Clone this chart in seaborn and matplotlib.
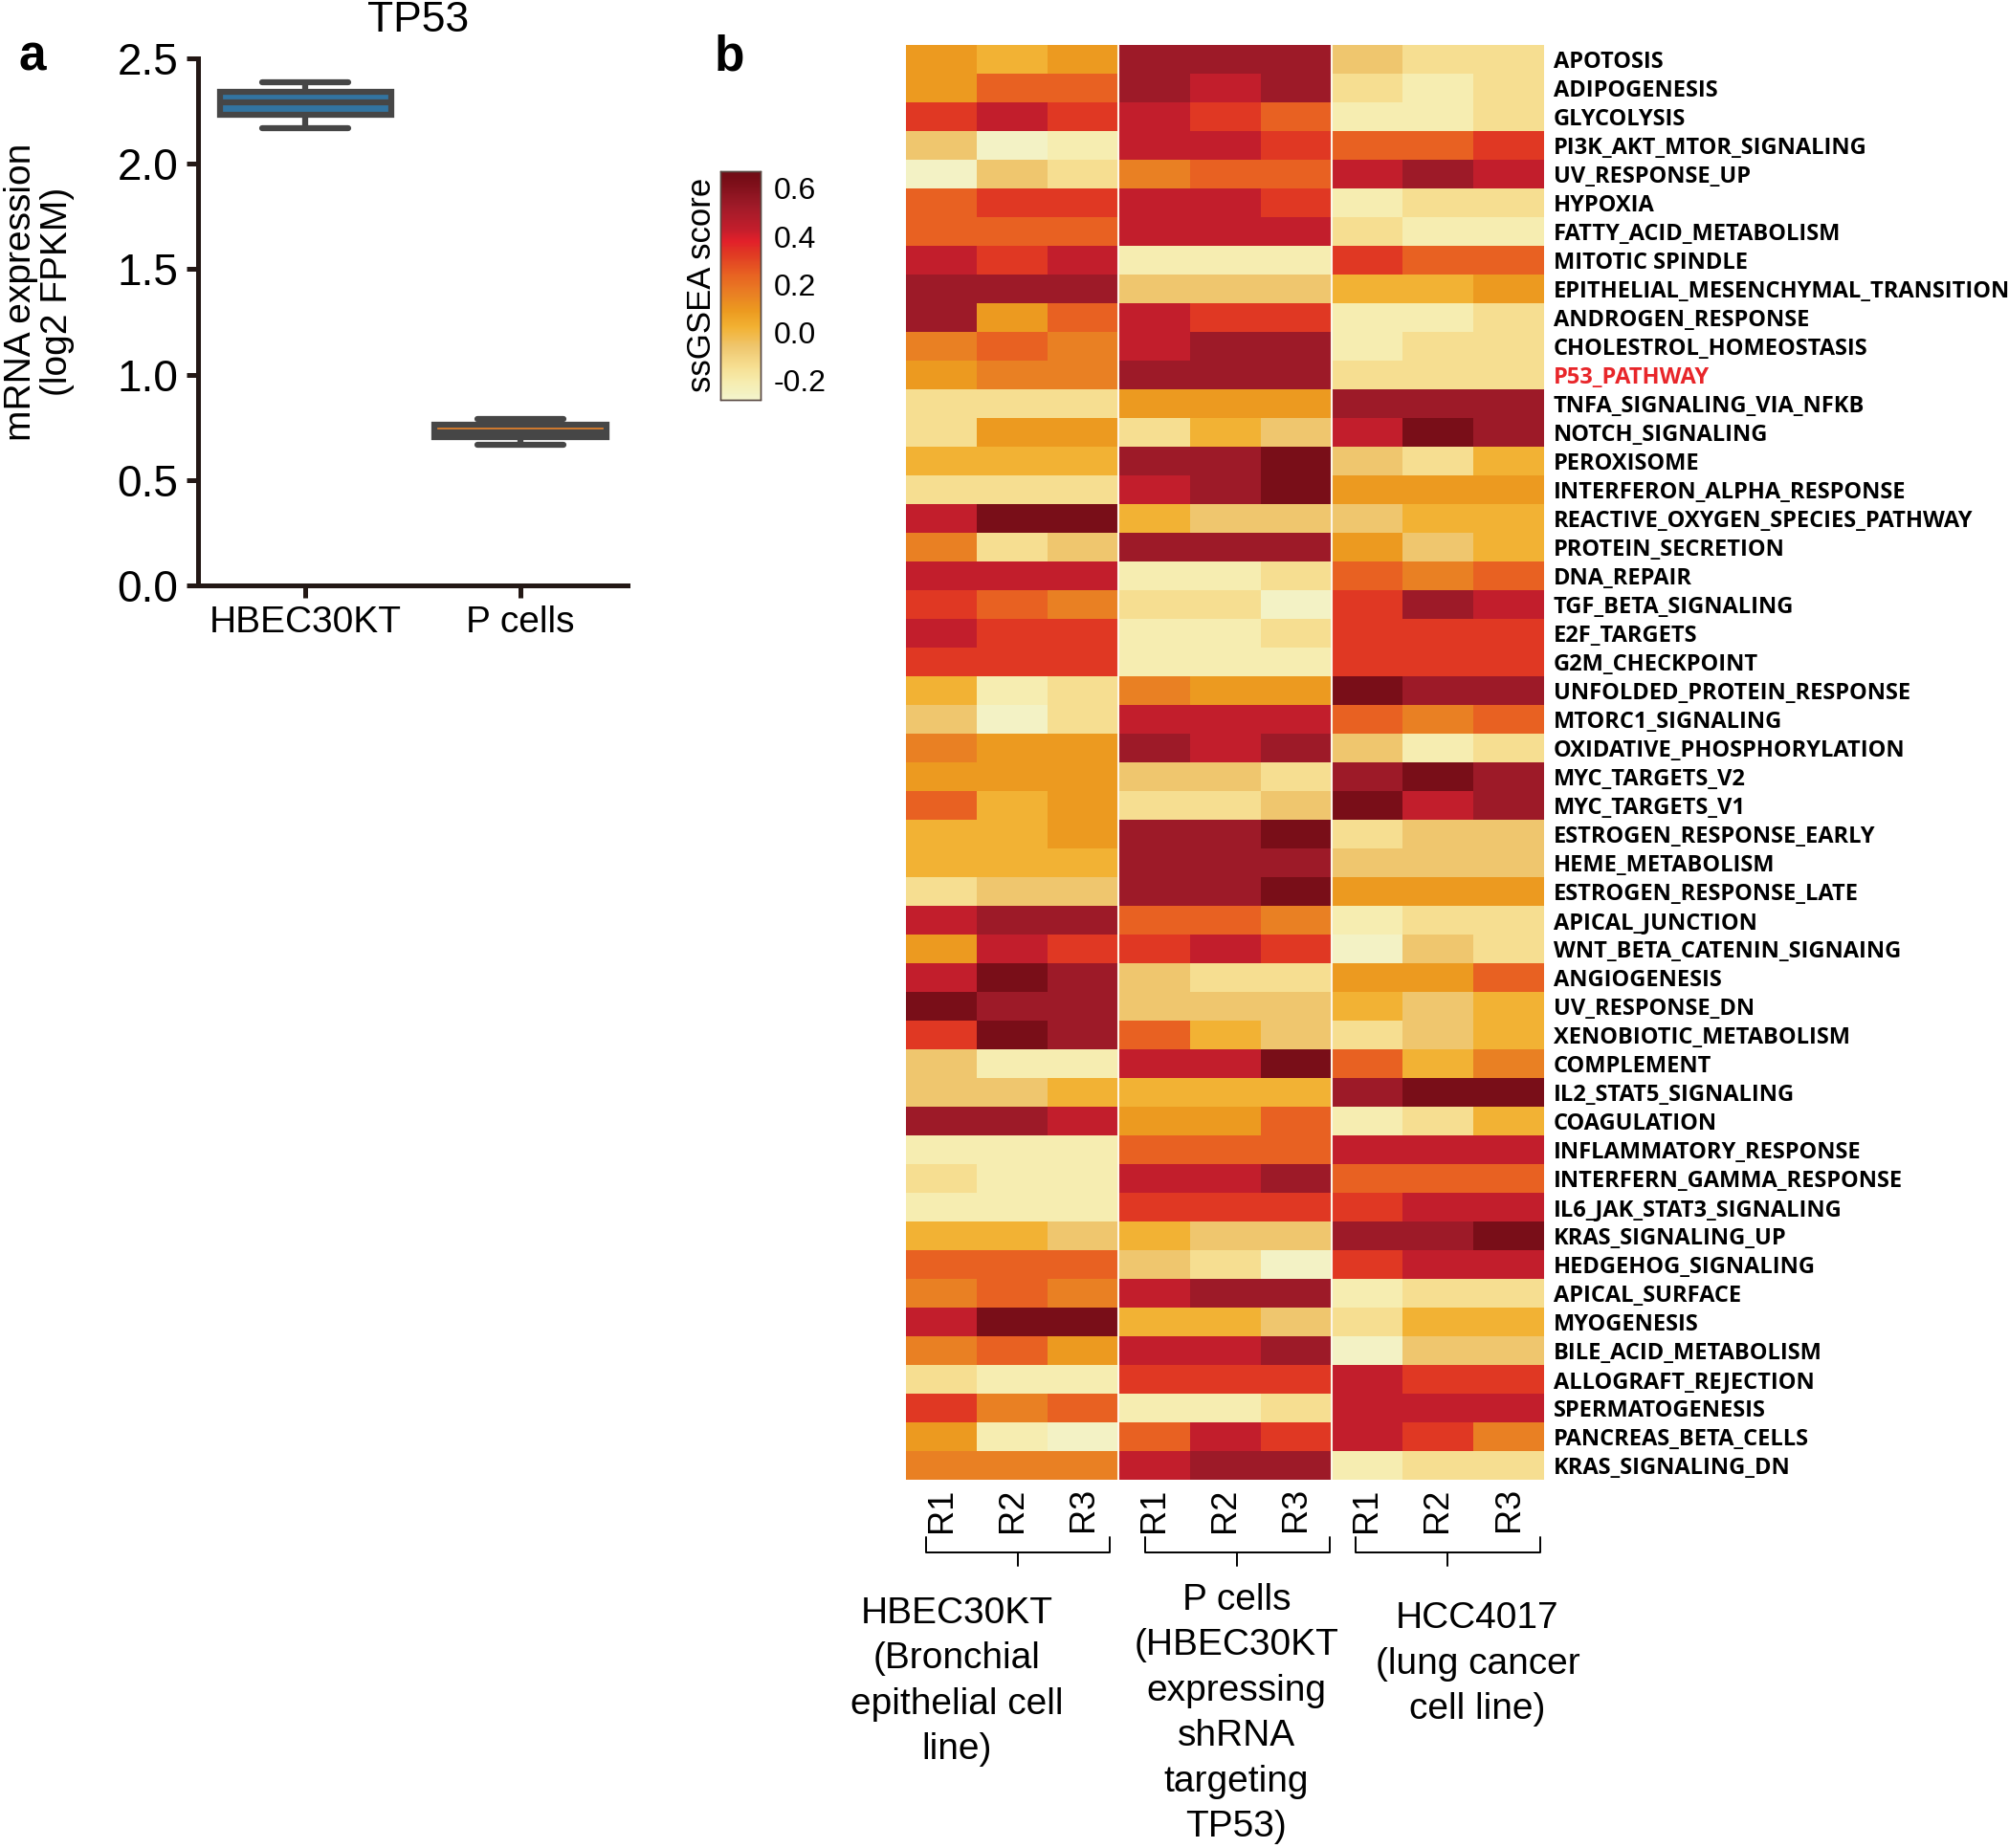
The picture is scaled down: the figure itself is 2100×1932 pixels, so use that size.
import numpy as np
import pandas as pd
import matplotlib
matplotlib.use("Agg")
import matplotlib.pyplot as plt
import matplotlib.transforms as mtransforms
from matplotlib.colors import LinearSegmentedColormap
import seaborn as sns

# --- panel a: TP53 expression (log2 FPKM) ---
box_groups = ["HBEC30KT", "P cells"]
tp53_hbec = [2.169, 2.232, 2.291, 2.341, 2.387]
tp53_pcells = [0.665, 0.703, 0.724, 0.762, 0.789]

# --- panel b: ssGSEA scores (rows = hallmark pathways) ---
pathways = [
    "APOTOSIS", "ADIPOGENESIS", "GLYCOLYSIS", "PI3K_AKT_MTOR_SIGNALING",
    "UV_RESPONSE_UP", "HYPOXIA", "FATTY_ACID_METABOLISM", "MITOTIC SPINDLE",
    "EPITHELIAL_MESENCHYMAL_TRANSITION", "ANDROGEN_RESPONSE",
    "CHOLESTROL_HOMEOSTASIS", "P53_PATHWAY", "TNFA_SIGNALING_VIA_NFKB",
    "NOTCH_SIGNALING", "PEROXISOME", "INTERFERON_ALPHA_RESPONSE",
    "REACTIVE_OXYGEN_SPECIES_PATHWAY", "PROTEIN_SECRETION", "DNA_REPAIR",
    "TGF_BETA_SIGNALING", "E2F_TARGETS", "G2M_CHECKPOINT",
    "UNFOLDED_PROTEIN_RESPONSE", "MTORC1_SIGNALING",
    "OXIDATIVE_PHOSPHORYLATION", "MYC_TARGETS_V2", "MYC_TARGETS_V1",
    "ESTROGEN_RESPONSE_EARLY", "HEME_METABOLISM", "ESTROGEN_RESPONSE_LATE",
    "APICAL_JUNCTION", "WNT_BETA_CATENIN_SIGNAING", "ANGIOGENESIS",
    "UV_RESPONSE_DN", "XENOBIOTIC_METABOLISM", "COMPLEMENT",
    "IL2_STAT5_SIGNALING", "COAGULATION", "INFLAMMATORY_RESPONSE",
    "INTERFERN_GAMMA_RESPONSE", "IL6_JAK_STAT3_SIGNALING", "KRAS_SIGNALING_UP",
    "HEDGEHOG_SIGNALING", "APICAL_SURFACE", "MYOGENESIS",
    "BILE_ACID_METABOLISM", "ALLOGRAFT_REJECTION", "SPERMATOGENESIS",
    "PANCREAS_BETA_CELLS", "KRAS_SIGNALING_DN",
]
replicates = ["R1", "R2", "R3"]
highlight = "P53_PATHWAY"

hbec_scores = [
    [0.09, 0.02, 0.09], [0.09, 0.24, 0.24], [0.33, 0.43, 0.33], [-0.06, -0.26, -0.21],
    [-0.26, -0.06, -0.14], [0.24, 0.33, 0.33], [0.24, 0.24, 0.24], [0.43, 0.33, 0.43],
    [0.53, 0.53, 0.53], [0.53, 0.09, 0.24], [0.16, 0.24, 0.16], [0.09, 0.16, 0.16],
    [-0.14, -0.14, -0.14], [-0.14, 0.09, 0.09], [0.02, 0.02, 0.02], [-0.14, -0.14, -0.14],
    [0.43, 0.63, 0.63], [0.16, -0.14, -0.06], [0.43, 0.43, 0.43], [0.33, 0.24, 0.16],
    [0.43, 0.33, 0.33], [0.33, 0.33, 0.33], [0.02, -0.21, -0.14], [-0.06, -0.26, -0.14],
    [0.16, 0.09, 0.09], [0.09, 0.09, 0.09], [0.24, 0.02, 0.09], [0.02, 0.02, 0.09],
    [0.02, 0.02, 0.02], [-0.14, -0.06, -0.06], [0.43, 0.53, 0.53], [0.09, 0.43, 0.33],
    [0.43, 0.63, 0.53], [0.63, 0.53, 0.53], [0.33, 0.63, 0.53], [-0.06, -0.21, -0.21],
    [-0.06, -0.06, 0.02], [0.53, 0.53, 0.43], [-0.21, -0.21, -0.21], [-0.14, -0.21, -0.21],
    [-0.21, -0.21, -0.21], [0.02, 0.02, -0.06], [0.24, 0.24, 0.24], [0.16, 0.24, 0.16],
    [0.43, 0.63, 0.63], [0.16, 0.24, 0.09], [-0.14, -0.21, -0.21], [0.33, 0.16, 0.24],
    [0.09, -0.21, -0.26], [0.16, 0.16, 0.16],
]
pcell_scores = [
    [0.53, 0.53, 0.53], [0.53, 0.43, 0.53], [0.43, 0.33, 0.24], [0.43, 0.43, 0.33],
    [0.16, 0.24, 0.24], [0.43, 0.43, 0.33], [0.43, 0.43, 0.43], [-0.21, -0.21, -0.21],
    [-0.06, -0.06, -0.06], [0.43, 0.33, 0.33], [0.43, 0.53, 0.53], [0.53, 0.53, 0.53],
    [0.09, 0.09, 0.09], [-0.14, 0.02, -0.06], [0.53, 0.53, 0.63], [0.43, 0.53, 0.63],
    [0.02, -0.06, -0.06], [0.53, 0.53, 0.53], [-0.21, -0.21, -0.14], [-0.14, -0.14, -0.26],
    [-0.21, -0.21, -0.14], [-0.21, -0.21, -0.21], [0.16, 0.09, 0.09], [0.43, 0.43, 0.43],
    [0.53, 0.43, 0.53], [-0.06, -0.06, -0.14], [-0.14, -0.14, -0.06], [0.53, 0.53, 0.63],
    [0.53, 0.53, 0.53], [0.53, 0.53, 0.63], [0.24, 0.24, 0.16], [0.33, 0.43, 0.33],
    [-0.06, -0.14, -0.14], [-0.06, -0.06, -0.06], [0.24, 0.02, -0.06], [0.43, 0.43, 0.63],
    [0.02, 0.02, 0.02], [0.09, 0.09, 0.24], [0.24, 0.24, 0.24], [0.43, 0.43, 0.53],
    [0.33, 0.33, 0.33], [0.02, -0.06, -0.06], [-0.06, -0.14, -0.26], [0.43, 0.53, 0.53],
    [0.02, 0.02, -0.06], [0.43, 0.43, 0.53], [0.33, 0.33, 0.33], [-0.21, -0.21, -0.14],
    [0.24, 0.43, 0.33], [0.43, 0.53, 0.53],
]
hcc_scores = [
    [-0.06, -0.14, -0.14], [-0.14, -0.21, -0.14], [-0.21, -0.21, -0.14], [0.24, 0.24, 0.33],
    [0.43, 0.53, 0.43], [-0.21, -0.14, -0.14], [-0.14, -0.21, -0.21], [0.33, 0.24, 0.24],
    [0.02, 0.02, 0.09], [-0.21, -0.21, -0.14], [-0.21, -0.14, -0.14], [-0.14, -0.14, -0.14],
    [0.53, 0.53, 0.53], [0.43, 0.63, 0.53], [-0.06, -0.14, 0.02], [0.09, 0.09, 0.09],
    [-0.06, 0.02, 0.02], [0.09, -0.06, 0.02], [0.24, 0.16, 0.24], [0.33, 0.53, 0.43],
    [0.33, 0.33, 0.33], [0.33, 0.33, 0.33], [0.63, 0.53, 0.53], [0.24, 0.16, 0.24],
    [-0.06, -0.21, -0.14], [0.53, 0.63, 0.53], [0.63, 0.43, 0.53], [-0.14, -0.06, -0.06],
    [-0.06, -0.06, -0.06], [0.09, 0.09, 0.09], [-0.21, -0.14, -0.14], [-0.26, -0.06, -0.14],
    [0.09, 0.09, 0.24], [0.02, -0.06, 0.02], [-0.14, -0.06, 0.02], [0.24, 0.02, 0.16],
    [0.53, 0.63, 0.63], [-0.21, -0.14, 0.02], [0.43, 0.43, 0.43], [0.24, 0.24, 0.24],
    [0.33, 0.43, 0.43], [0.53, 0.53, 0.63], [0.33, 0.43, 0.43], [-0.21, -0.14, -0.14],
    [-0.14, 0.02, 0.02], [-0.26, -0.06, -0.06], [0.43, 0.33, 0.33], [0.43, 0.43, 0.43],
    [0.43, 0.33, 0.16], [-0.21, -0.14, -0.14],
]
group_labels = [
    "HBEC30KT\n(Bronchial\nepithelial cell\nline)",
    "P cells\n(HBEC30KT\nexpressing\nshRNA\ntargeting\nTP53)",
    "HCC4017\n(lung cancer\ncell line)",
]
cbar_ticks = [-0.2, 0.0, 0.2, 0.4, 0.6]

# --- style ---
sns.set_style("white")
arial = ["Liberation Sans", "DejaVu Sans"]
bold_lbl = ["Open Sans", "DejaVu Sans"]
plt.rcParams["font.family"] = arial
plt.rcParams["text.color"] = "black"
plt.rcParams["xtick.labelcolor"] = "black"
plt.rcParams["ytick.labelcolor"] = "black"
ink = "#231815"

fig = plt.figure(figsize=(21, 19.32), dpi=100)

# ================= panel a =================
ax_a = fig.add_axes([0.0986, 0.6832, 0.2138, 0.2852])
box_df = pd.DataFrame({
    "group": [box_groups[0]] * len(tp53_hbec) + [box_groups[1]] * len(tp53_pcells),
    "value": tp53_hbec + tp53_pcells,
})
sns.boxplot(data=box_df, x="group", y="value", hue="group",
            palette=["#1f77b4", "#ff7f0e"], linecolor="#464646", linewidth=4.5,
            width=0.8, showfliers=False, legend=False, ax=ax_a)
ax_a.set_ylim(0, 2.5)
ax_a.set_xlim(-0.5, 1.5)
ax_a.set_yticks([0, 0.5, 1.0, 1.5, 2.0, 2.5])
ax_a.set_yticklabels(["0.0", "0.5", "1.0", "1.5", "2.0", "2.5"])
ax_a.set_xlabel("")
ax_a.set_ylabel("")
sns.despine(ax=ax_a)
for side in ["left", "bottom"]:
    ax_a.spines[side].set_linewidth(3.6)
    ax_a.spines[side].set_color(ink)
ax_a.tick_params(axis="both", which="major", length=9, width=3.6,
                 color=ink, labelcolor="black", pad=6, left=True, bottom=True)
ax_a.tick_params(axis="x", labelsize=28)
ax_a.tick_params(axis="y", labelsize=33)

fig.text(0.208, 0.989, "TP53", ha="center", va="center", fontsize=32)
fig.text(0.0195, 0.842, "mRNA expression\n(log2 FPKM)", ha="center", va="center",
         rotation=90, fontsize=28, linespacing=1.05)
fig.text(0.016, 0.969, "a", ha="center", va="center", fontsize=37, fontweight="bold")
fig.text(0.363, 0.969, "b", ha="center", va="center", fontsize=37, fontweight="bold")

# ================= panel b =================
scores = pd.DataFrame(
    np.hstack([np.array(hbec_scores), np.array(pcell_scores), np.array(hcc_scores)]),
    index=pathways, columns=replicates * 3,
)

vmin, vmax = -0.28, 0.67
anchors = [(-0.28, "#F5F5CC"), (-0.26, "#F3F2C4"), (-0.21, "#F6EDB0"),
           (-0.14, "#F6DE90"), (-0.06, "#EFC66E"), (0.02, "#F2B233"),
           (0.09, "#EC9A20"), (0.16, "#E98023"), (0.24, "#E86222"),
           (0.33, "#E03823"), (0.38, "#E2202A"), (0.43, "#C31E2C"),
           (0.53, "#9E1A28"), (0.63, "#7A0E18"), (0.67, "#700C15")]
cmap = LinearSegmentedColormap.from_list(
    "ssgsea", [((v - vmin) / (vmax - vmin), c) for v, c in anchors])

ax_b = fig.add_axes([0.451, 0.1993, 0.3176, 0.7764])
cax = fig.add_axes([0.3586, 0.7836, 0.02, 0.1237])
sns.heatmap(scores, cmap=cmap, vmin=vmin, vmax=vmax, ax=ax_b, cbar_ax=cax,
            cbar_kws={"ticks": cbar_ticks}, xticklabels=True, yticklabels=True)

ax_b.axvline(3, color="#fdf6e8", lw=1.5)
ax_b.axvline(6, color="#fdf6e8", lw=1.5)

ax_b.yaxis.tick_right()
ax_b.set_yticklabels(pathways, rotation=0, fontsize=17, fontweight="bold",
                     family=bold_lbl)
for lbl in ax_b.get_yticklabels():
    lbl.set_color("#E8262A" if lbl.get_text() == highlight else "black")
ax_b.set_xticklabels(replicates * 3, rotation=90, fontsize=26, color="black")
ax_b.tick_params(axis="both", length=0)
ax_b.tick_params(axis="y", pad=7)
ax_b.tick_params(axis="x", pad=6)
ax_b.set_xlabel("")
ax_b.set_ylabel("")

# colorbar
cax.tick_params(length=0, labelsize=23, pad=10, labelcolor="black")
cax.set_yticklabels(["-0.2", "0.0", "0.2", "0.4", "0.6"])
for s in cax.spines.values():
    s.set_visible(True)
    s.set_linewidth(1.0)
    s.set_color("#5a4a44")
fig.text(0.3495, 0.8457, "ssGSEA score", rotation=90, ha="center", va="center",
         fontsize=25)

# brackets under the replicate labels
trans = mtransforms.blended_transform_factory(ax_b.transData, fig.transFigure)
bracket_spans = [(0.28, 2.87, 1.58), (3.37, 5.98, 4.67), (6.34, 8.95, 7.64)]
y_top, y_mid, y_bot = 0.1682, 0.1600, 0.1527
for x0, x1, xc in bracket_spans:
    ax_b.plot([x0, x0, x1, x1], [y_top, y_mid, y_mid, y_top], color="black",
              lw=1.4, transform=trans, clip_on=False)
    ax_b.plot([xc, xc], [y_mid, y_bot], color="black", lw=1.4,
              transform=trans, clip_on=False)

label_pos = [(0.72, 0.1362), (4.66, 0.1435), (8.06, 0.1335)]
for (xc, yt), txt in zip(label_pos, group_labels):
    ax_b.text(xc, yt, txt, transform=trans, ha="center", va="top", color="black",
              fontsize=28, linespacing=1.41, multialignment="center")

fig.savefig("out.png", dpi=100)
